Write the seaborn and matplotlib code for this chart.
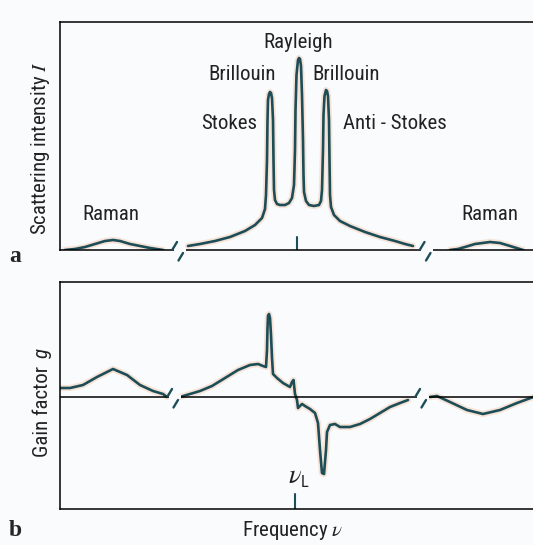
import pandas as pd
import matplotlib.pyplot as plt
import seaborn as sns
from matplotlib import font_manager as fm

# Frequency offset from nu_L (arbitrary units), intensity / gain (arbitrary units)

# --- panel a: scattering intensity ---
raman_l_x = [-232, -222, -212, -202, -192, -184, -177, -167, -157, -147, -134]
raman_l_y = [0, 1, 3, 6, 9, 10, 9, 6, 4, 2, 0]

center_x = [-109, -97, -82, -67, -52, -42, -35, -32, -31, -30, -29.5, -29, -28, -27, -26, -25,
            -24, -23.5, -23, -22, -20, -17, -12, -8, -5, -3, -2, -1.5, -0.5, 1, 2, 3, 4, 5,
            6, 6.5, 7, 9, 12, 17, 22, 24, 25, 26, 26.5, 27.5, 29, 30, 31, 32, 32.5, 33, 34,
            37, 43, 53, 68, 83, 98, 108, 116]
center_y = [4, 6, 9, 13, 19, 25, 32, 41, 55, 90, 130, 150, 156, 158, 157, 152,
            130, 90, 60, 50, 46, 45, 45, 47, 52, 65, 100, 140, 175, 190, 192, 191, 184, 155,
            110, 75, 58, 49, 45, 44, 45, 49, 60, 100, 135, 154, 160, 159, 154, 130, 90, 55, 43,
            35, 29, 24, 18, 13, 9, 6, 4]

raman_r_x = [153, 161, 168, 178, 193, 203, 213, 226]
raman_r_y = [0, 1, 3, 6, 8, 7, 4, 0]

# --- panel b: gain factor ---
gain_l_x = [-237, -227, -214, -200, -184, -170, -157, -144, -134, -130]
gain_l_y = [9, 9, 12, 20, 28, 22, 12, 6, 3, 0]

gain_c_x = [-117, -107, -97, -85, -72, -59, -47, -39, -34, -31, -30, -29.5, -29, -28, -27, -26,
            -25, -24, -20, -14, -7, -5, -3.5, -2, 0, 1, 5, 8, 13, 18, 21, 23, 25, 27, 29, 30,
            33, 38, 43, 53, 63, 73, 83, 93, 103, 111]
gain_c_y = [0, 3, 6, 11, 19, 27, 32, 33, 31, 30, 47, 69, 81, 83, 79, 62,
            39, 23, 19, 14, 10, 15, 17, 3, -3, -11, -7, -9, -12, -16, -26, -53, -76, -77, -53, -35,
            -28, -27, -30, -30, -27, -22, -16, -10, -6, -3]

gain_r_x = [133, 140, 153, 170, 186, 203, 220, 239]
gain_r_y = [0, 1, -5, -13, -17, -13, -6, 1]

# axis-break positions
breaks_a = [-117.5, 130]
breaks_b = [-122.5, 125.5]

labels_a = ['Raman', 'Brillouin', 'Stokes', 'Rayleigh', 'Brillouin', 'Anti - Stokes', 'Raman']
labels_a_x = [-186, -55, -68, 1, 49, 98, 193]
labels_a_y = [30, 170, 121, 202, 170, 121, 30]

sns.set_style('white')

# pick a narrow sans font if one is installed
names = {f.name for f in fm.fontManager.ttflist}
stretch = 'normal'
family = 'Roboto'
for n in ['Liberation Sans Narrow', 'Roboto Condensed', 'Open Sans Condensed', 'Noto Sans Condensed']:
    if n in names:
        family = n
        break
else:
    for f in fm.fontManager.ttflist:
        if f.name == 'DejaVu Sans' and 'Condensed' in f.fname:
            family = 'DejaVu Sans'
            stretch = 'condensed'
            break
plt.rcParams['font.family'] = [family, 'DejaVu Sans']
plt.rcParams['font.stretch'] = stretch
plt.rcParams['mathtext.fontset'] = 'stix'
fs = 15 if family != 'Roboto' else 14.5

teal = '#1d4d56'
halo = '#f4cdb4'
bg = '#fafbfd'
ink = '#222222'

fig = plt.figure(figsize=(5.33, 5.45), dpi=100, facecolor=bg)
ax1 = fig.add_axes([60 / 533, 295 / 545, 473 / 533, 228 / 545], facecolor=bg)
ax2 = fig.add_axes([60 / 533, 36 / 545, 473 / 533, 227 / 545], facecolor=bg)


def curve(ax, xs, ys):
    df = pd.DataFrame({'x': xs, 'y': ys})
    sns.lineplot(data=df, x='x', y='y', sort=False, estimator=None, color=halo,
                 lw=4.5, alpha=0.5, ax=ax)
    sns.lineplot(data=df, x='x', y='y', sort=False, estimator=None, color=teal,
                 lw=1.9, ax=ax)


def breakmark(ax, c):
    # white gap in the base line plus two slashes
    ax.plot([c - 6, c + 6], [0, 0], color=bg, lw=3, zorder=4, clip_on=False,
            solid_capstyle='butt')
    ax.plot([c - 7, c - 2.5], [0.5, 8], color=teal, lw=1.7, zorder=5, clip_on=False)
    ax.plot([c - 1, c + 3.5], [-10.5, -3], color=teal, lw=1.7, zorder=5, clip_on=False)


curve(ax1, raman_l_x, raman_l_y)
curve(ax1, center_x, center_y)
curve(ax1, raman_r_x, raman_r_y)
for b in breaks_a:
    breakmark(ax1, b)
ax1.plot([0, 0], [0, 13], color=teal, lw=1.5)
for t, x, y in zip(labels_a, labels_a_x, labels_a_y):
    ax1.text(x, y, t, ha='center', va='baseline', fontsize=fs, color=ink)

ax2.axhline(0, color='black', lw=1.1, zorder=3)
curve(ax2, gain_l_x, gain_l_y)
curve(ax2, gain_c_x, gain_c_y)
curve(ax2, gain_r_x, gain_r_y)
for b in breaks_b:
    breakmark(ax2, b)
ax2.plot([-2, -2], [-112, -97], color=teal, lw=1.5)
ax2.text(-2, -86, r'$\nu$', ha='center', va='baseline', fontsize=19, color=ink)
ax2.text(4, -90, 'L', ha='left', va='baseline', fontsize=12, color=ink)

ax1.set_xlim(-237, 236)
ax1.set_ylim(0, 228)
ax2.set_xlim(-237, 236)
ax2.set_ylim(-112, 115)

for ax in (ax1, ax2):
    ax.set_xticks([])
    ax.set_yticks([])
    ax.set_xlabel('')
    ax.set_ylabel('')
    ax.spines['right'].set_visible(False)
    for s in ('left', 'top', 'bottom'):
        ax.spines[s].set_color('black')
        ax.spines[s].set_linewidth(1.1)

fig.text(41 / 533, 1 - 148 / 545, r'Scattering intensity $I$', rotation=90,
         ha='center', va='center', fontsize=fs, color=ink)
fig.text(42 / 533, 1 - 411 / 545, 'Gain factor', rotation=90,
         ha='center', va='center', fontsize=fs, color=ink)
fig.text(42 / 533, 1 - 353 / 545, 'g', rotation=90, style='italic',
         ha='center', va='center', fontsize=fs, color=ink)
fig.text(293 / 533, 1 - 530 / 545, r'Frequency $\nu$', ha='center', va='center',
         fontsize=fs, color=ink)
fig.text(15 / 533, 1 - 257 / 545, 'a', ha='center', va='center', fontsize=17,
         fontweight='bold', family=['Liberation Serif', 'DejaVu Serif'])
fig.text(15 / 533, 1 - 531 / 545, 'b', ha='center', va='center', fontsize=17,
         fontweight='bold', family=['Liberation Serif', 'DejaVu Serif'])

plt.savefig('out.png', dpi=100, facecolor=bg)
